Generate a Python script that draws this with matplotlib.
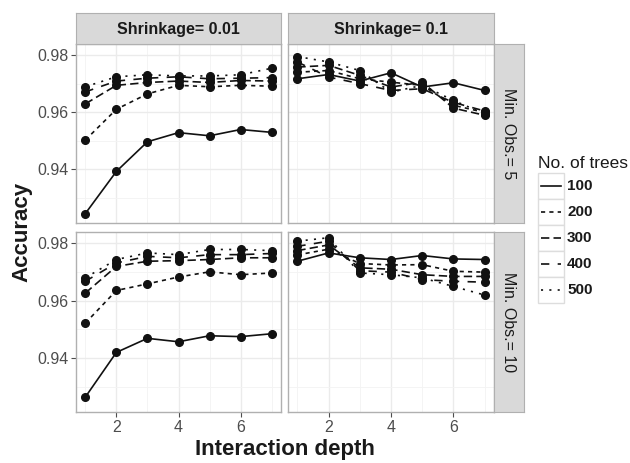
import numpy as np
import matplotlib.pyplot as plt
from matplotlib.patches import Rectangle

plt.rcParams['font.family'] = ['Liberation Sans', 'DejaVu Sans']
plt.rcParams['lines.scale_dashes'] = False

#-----------datos-------------------#
depth = [1, 2, 3, 4, 5, 6, 7]
n_trees = ['100', '200', '300', '400', '500']
shrink_labels = ['Shrinkage= 0.01', 'Shrinkage= 0.1']
minobs_labels = ['Min. Obs.= 5', 'Min. Obs.= 10']

# filas = 100, 200, 300, 400, 500 arboles
acc_s001_obs5 = [
    [0.9245, 0.9393, 0.9497, 0.9529, 0.9518, 0.9540, 0.9530],
    [0.9503, 0.9611, 0.9665, 0.9695, 0.9690, 0.9695, 0.9692],
    [0.9630, 0.9695, 0.9705, 0.9710, 0.9705, 0.9712, 0.9710],
    [0.9672, 0.9710, 0.9720, 0.9725, 0.9718, 0.9720, 0.9722],
    [0.9690, 0.9725, 0.9732, 0.9728, 0.9728, 0.9732, 0.9755],
]
acc_s01_obs5 = [
    [0.9718, 0.9733, 0.9710, 0.9739, 0.9689, 0.9704, 0.9677],
    [0.9741, 0.9747, 0.9718, 0.9706, 0.9695, 0.9625, 0.9600],
    [0.9759, 0.9765, 0.9730, 0.9689, 0.9706, 0.9615, 0.9590],
    [0.9777, 0.9724, 0.9701, 0.9677, 0.9683, 0.9635, 0.9605],
    [0.9796, 0.9777, 0.9747, 0.9671, 0.9695, 0.9642, 0.9595],
]
acc_s001_obs10 = [
    [0.9264, 0.9420, 0.9469, 0.9457, 0.9478, 0.9475, 0.9485],
    [0.9522, 0.9636, 0.9659, 0.9683, 0.9701, 0.9691, 0.9697],
    [0.9627, 0.9720, 0.9738, 0.9740, 0.9744, 0.9750, 0.9750],
    [0.9668, 0.9732, 0.9755, 0.9750, 0.9761, 0.9761, 0.9765],
    [0.9680, 0.9744, 0.9767, 0.9761, 0.9779, 0.9779, 0.9775],
]
acc_s01_obs10 = [
    [0.9738, 0.9767, 0.9750, 0.9744, 0.9758, 0.9746, 0.9744],
    [0.9760, 0.9780, 0.9730, 0.9725, 0.9726, 0.9703, 0.9700],
    [0.9775, 0.9795, 0.9715, 0.9710, 0.9691, 0.9685, 0.9685],
    [0.9790, 0.9808, 0.9705, 0.9700, 0.9674, 0.9668, 0.9665],
    [0.9808, 0.9820, 0.9697, 0.9691, 0.9680, 0.9650, 0.9620],
]

paneles = [[acc_s001_obs5, acc_s01_obs5],
           [acc_s001_obs10, acc_s01_obs10]]

# tipos de linea (estilo ggplot: solid, 22, 42, 44, 13)
estilos = ['-', (0, (3, 3)), (0, (6, 3)), (0, (6, 6)), (0, (1.5, 4.5))]

#-----------figura-------------------#
W, H = 630, 463
fig = plt.figure(figsize=(6.3, 4.63), dpi=100)

def caja(x0, y0, x1, y1):
    # pixeles -> fraccion de figura
    return [x0 / W, 1 - y1 / H, (x1 - x0) / W, (y1 - y0) / H]

cols_x = [(76, 281), (288, 494)]
filas_y = [(44, 223), (232, 412)]
borde = '#B0B0B0'
gris_txt = '#4D4D4D'

for i, (y0, y1) in enumerate(filas_y):
    for j, (x0, x1) in enumerate(cols_x):
        ax = fig.add_axes(caja(x0, y0, x1, y1))
        datos = paneles[i][j]
        for k in range(len(n_trees)):
            ax.plot(depth, datos[k], color='#111111', lw=1.2, ls=estilos[k],
                    marker='o', ms=5.5, mec='#111111', mfc='#111111', zorder=3)
        ax.set_xlim(0.7, 7.3)
        ax.set_ylim(0.9212, 0.9840)
        ax.set_xticks([2, 4, 6])
        ax.set_xticks([1, 3, 5, 7], minor=True)
        ax.set_yticks([0.94, 0.96, 0.98])
        ax.set_yticks([0.93, 0.95, 0.97], minor=True)
        ax.grid(True, which='major', color='#EBEBEB', lw=1.0, zorder=0)
        ax.grid(True, which='minor', color='#F3F3F3', lw=0.6, zorder=0)
        ax.set_axisbelow(True)
        for s in ax.spines.values():
            s.set_color(borde)
            s.set_linewidth(1.0)
        ax.tick_params(which='minor', length=0)
        ax.tick_params(which='major', length=3.5, color=gris_txt, width=0.8,
                       labelsize=11.5, labelcolor=gris_txt, pad=2)
        ax.set_yticklabels(['0.94', '0.96', '0.98'])
        if j == 1:
            ax.tick_params(axis='y', length=0, labelleft=False)
        if i == 0:
            ax.tick_params(axis='x', length=0, labelbottom=False)

        # tiras de facetas
        if i == 0:
            st = fig.add_axes(caja(x0, 13, x1, y0))
            st.set_facecolor('#D9D9D9')
            st.set_xticks([]); st.set_yticks([])
            for s in st.spines.values():
                s.set_color(borde)
            st.text(0.5, 0.48, shrink_labels[j], ha='center', va='center',
                    fontsize=11.5, fontweight='bold', color='#1A1A1A',
                    transform=st.transAxes)
        if j == 1:
            st = fig.add_axes(caja(x1, y0, 524, y1))
            st.set_facecolor('#D9D9D9')
            st.set_xticks([]); st.set_yticks([])
            for s in st.spines.values():
                s.set_color(borde)
            st.text(0.5, 0.5, minobs_labels[i], ha='center', va='center',
                    rotation=-90, fontsize=11.5, color='#1A1A1A',
                    transform=st.transAxes)

fig.text(22 / W, 1 - 232 / H, 'Accuracy', rotation=90, ha='center',
         va='center', fontsize=16, fontweight='bold', color='#1A1A1A')
fig.text(285 / W, 1 - 449 / H, 'Interaction depth', ha='center',
         va='center', fontsize=16, fontweight='bold', color='#1A1A1A')

#-----------leyenda-------------------#
leg = fig.add_axes(caja(538, 173, 564, 303))
leg.set_xlim(0, 1)
leg.set_ylim(0, len(n_trees))
leg.axis('off')
for k, nombre in enumerate(n_trees):
    yb = len(n_trees) - 1 - k
    leg.add_patch(Rectangle((0, yb), 1, 1, facecolor='white',
                            edgecolor='#DDDDDD', lw=1.0, clip_on=False))
    leg.plot([0.12, 0.88], [yb + 0.5, yb + 0.5], color='#111111', lw=1.2,
             ls=estilos[k], clip_on=False)
    leg.text(1.12, yb + 0.5, nombre, ha='left', va='center', fontsize=11,
             fontweight='bold', color='#1A1A1A')
fig.text(538 / W, 1 - 163 / H, 'No. of trees', ha='left', va='center',
         fontsize=12.5, color='#1A1A1A')

fig.savefig('out.png', dpi=100)
